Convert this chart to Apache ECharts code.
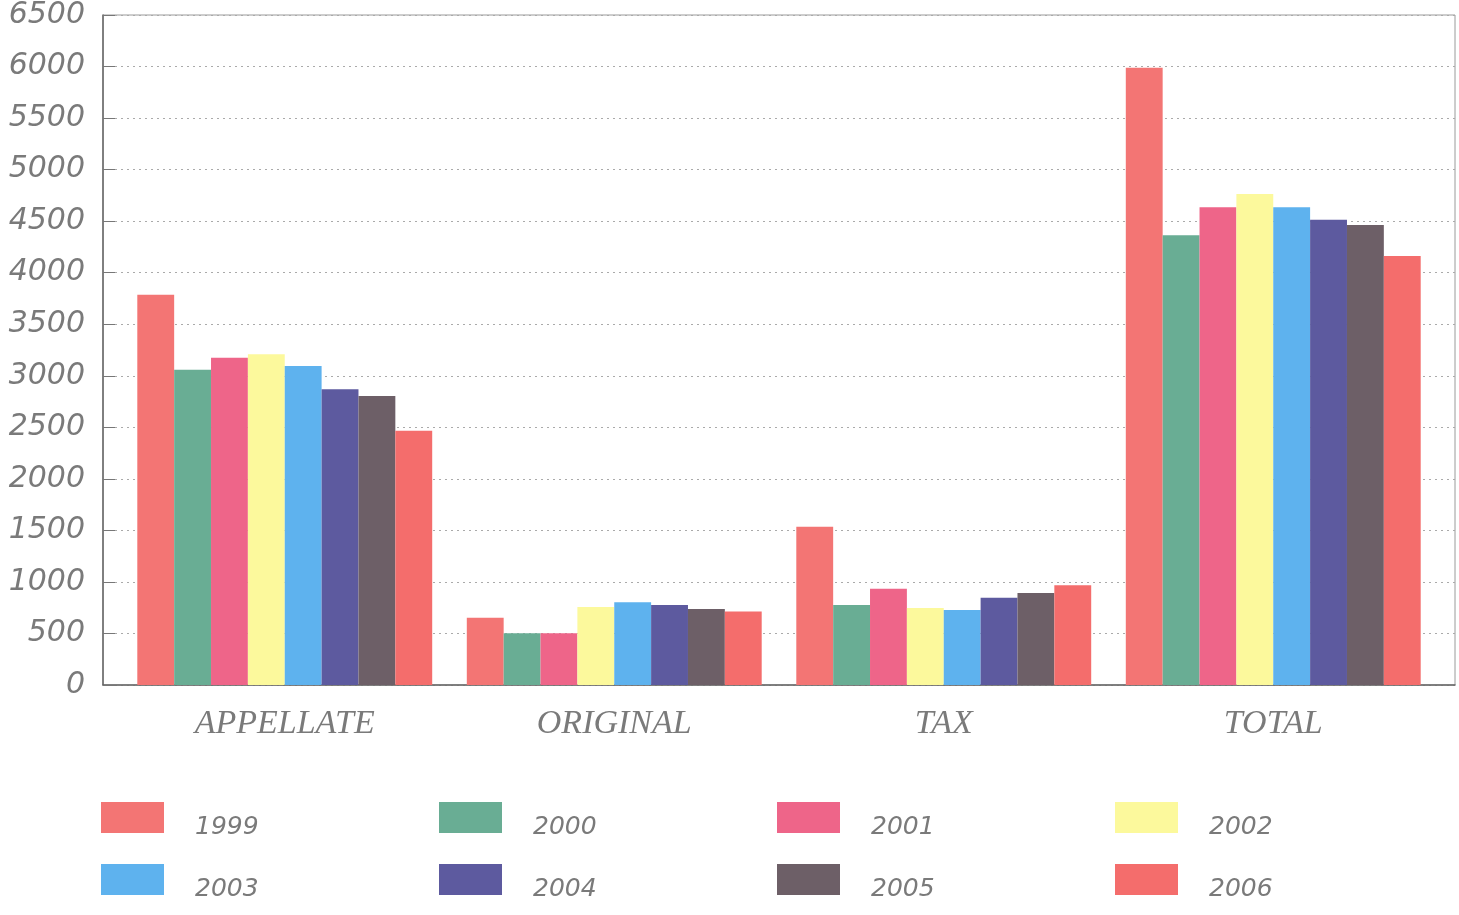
<!DOCTYPE html>
<html>
<head>
<meta charset="utf-8">
<script src="https://cdn.jsdelivr.net/npm/echarts@6/dist/echarts.min.js"></script>
<style>
html,body{margin:0;padding:0;background:#fff;}
#chart{width:1459px;height:915px;}
</style>
</head>
<body>
<div id="chart"></div>
<script>
const categories = ['APPELLATE', 'ORIGINAL', 'TAX', 'TOTAL'];
const years = ['1999', '2000', '2001', '2002', '2003', '2004', '2005', '2006'];
const v1999 = [3775, 650, 1530, 5970];
const v2000 = [3050, 500, 775, 4350];
const v2001 = [3165, 500, 930, 4620];
const v2002 = [3200, 755, 745, 4750];
const v2003 = [3085, 800, 725, 4620];
const v2004 = [2860, 775, 845, 4500];
const v2005 = [2795, 735, 890, 4450];
const v2006 = [2460, 710, 965, 4150];
const yTicks = { min: 0, max: 6500, interval: 500 };
const colors = ['#f37574', '#69ad94', '#ee6589', '#fcf99c', '#5eb2ee', '#5d5a9f', '#6d5f67', '#f46d6c'];

const seriesValues = [v1999, v2000, v2001, v2002, v2003, v2004, v2005, v2006];

const chart = echarts.init(document.getElementById('chart'), null, { renderer: 'canvas' });

const legendColsLeft = [101, 439, 777, 1115];
const legendRowsTop = [802, 864];

const legends = years.map((y, i) => ({
  data: [y],
  left: legendColsLeft[i % 4],
  top: legendRowsTop[Math.floor(i / 4)],
  padding: 0,
  itemWidth: 63, itemHeight: 31, icon: 'rect', selectedMode: false,
  formatter: '{t|{name}}',
  textStyle: {
    rich: {
      t: {
        fontFamily: 'DejaVu Sans', fontStyle: 'italic', fontSize: 25, color: '#7a7a7a',
        padding: [20, 0, 0, 26]
      }
    }
  }
}));

const option = {
  backgroundColor: '#fff',
  animation: false,
  color: colors,
  grid: [
    { left: 103, top: 13, width: 1352, height: 672, show: true, borderColor: '#9a9a9a', borderWidth: 1, backgroundColor: 'transparent' },
    { left: 120, top: 13, width: 1318, height: 672 }
  ],
  legend: legends,
  xAxis: [
    {
      gridIndex: 0, type: 'value', min: 0, max: 1,
      axisLine: { show: true, lineStyle: { color: '#666', width: 1.5 } },
      axisTick: { show: false }, axisLabel: { show: false }, splitLine: { show: false }
    },
    {
      gridIndex: 1, type: 'category', data: categories,
      axisLine: { show: false }, axisTick: { show: false },
      axisLabel: {
        margin: 22, fontFamily: 'Liberation Serif', fontStyle: 'italic', fontSize: 34, color: '#7a7a7a'
      }
    }
  ],
  yAxis: [
    {
      gridIndex: 0, type: 'value', min: yTicks.min, max: yTicks.max, interval: yTicks.interval,
      axisLine: { show: true, lineStyle: { color: '#666', width: 1.5 } },
      axisTick: { show: true, inside: true, length: 12, lineStyle: { color: '#777' } },
      axisLabel: {
        margin: 18, fontFamily: 'DejaVu Sans', fontStyle: 'italic', fontSize: 30, color: '#7a7a7a',
        formatter: v => String(v)
      },
      splitLine: { show: true, lineStyle: { color: '#aaa', width: 1, type: [2, 4] } }
    },
    {
      gridIndex: 1, type: 'value', min: yTicks.min, max: yTicks.max, interval: yTicks.interval,
      show: false, splitLine: { show: false }
    }
  ],
  series: years.map((y, i) => ({
    name: y,
    type: 'bar',
    xAxisIndex: 1,
    yAxisIndex: 1,
    data: seriesValues[i],
    barGap: '0%',
    barCategoryGap: '10.5%',
    itemStyle: { color: colors[i] }
  }))
};

chart.setOption(option);
</script>
</body>
</html>
